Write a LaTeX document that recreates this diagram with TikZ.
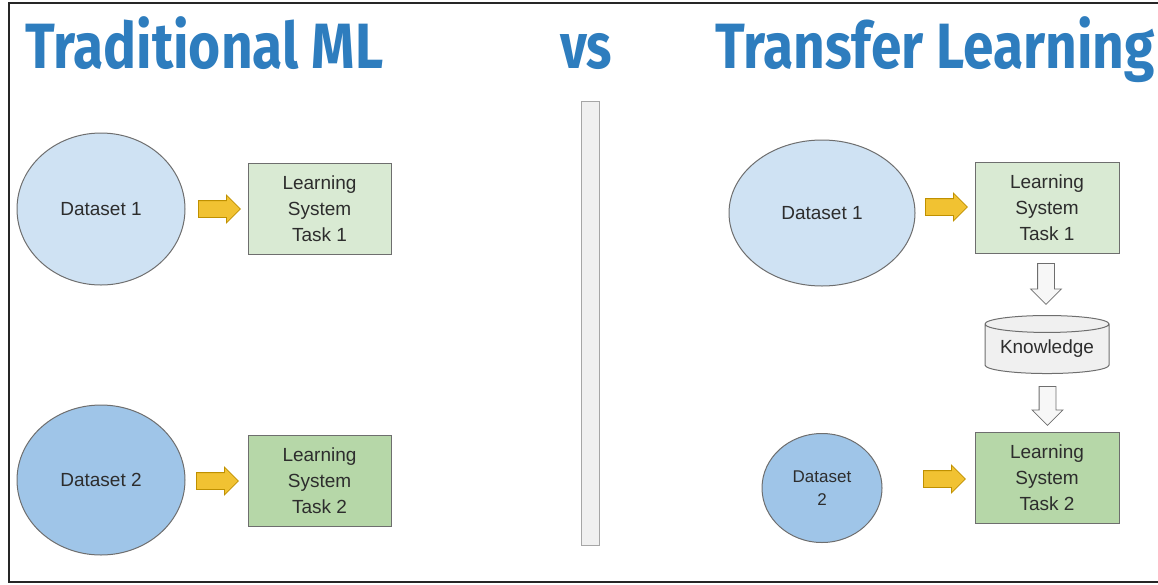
\documentclass[tikz,border=0pt]{standalone}
\usepackage{fontspec}
\setmainfont{Liberation Sans}
\newfontfamily\titlefont{Fira Sans}
\usetikzlibrary{shapes.geometric,shapes.arrows}
\definecolor{titleblue}{RGB}{46,125,190}
\definecolor{lightblue}{RGB}{207,226,243}
\definecolor{midblue}{RGB}{159,197,232}
\definecolor{lightgreen}{RGB}{217,234,211}
\definecolor{midgreen}{RGB}{182,215,168}
\definecolor{orangefill}{RGB}{241,194,50}
\definecolor{orangeline}{RGB}{191,144,0}
\definecolor{edgegray}{RGB}{110,110,110}
\definecolor{txt}{RGB}{45,45,45}
\newcommand{\ttl}[1]{\scalebox{0.86}[1]{#1}}
\tikzset{
  titletext/.style={anchor=base west, inner sep=0pt, text=titleblue, font=\titlefont\bfseries\fontsize{64}{70}\selectfont},
  dataset/.style={ellipse, draw=edgegray, line width=1pt, inner sep=0pt, text=txt, align=center, font=\fontsize{19}{25}\selectfont},
  taskbox/.style={rectangle, draw=edgegray, line width=1pt, inner sep=0pt, minimum width=143pt, minimum height=91pt, text=txt, align=center, font=\fontsize{19}{26}\selectfont},
  flowarrow/.style={single arrow, draw=orangeline, fill=orangefill, line width=0.8pt, minimum height=42pt, minimum width=27pt, single arrow head extend=5.5pt, inner xsep=0pt, inner ysep=8pt, anchor=tail},
  downarrow/.style={single arrow, draw=edgegray, fill=gray!6, line width=0.8pt, minimum height=41pt, minimum width=30pt, single arrow head extend=7pt, inner xsep=8pt, inner ysep=0pt, shape border rotate=270, anchor=tail},
  store/.style={cylinder, shape border rotate=90, aspect=0.18, draw=edgegray, fill=gray!12, line width=1pt, minimum width=124pt, minimum height=58pt, inner sep=0pt, text=txt, font=\fontsize{19}{25}\selectfont},
  frameline/.style={draw=black!85, line width=1.8pt},
}
\begin{document}
\begin{tikzpicture}[x=1pt,y=-1pt]
\useasboundingbox (0,0) rectangle (1158,584);
% frame
\coordinate (ftr) at (1158,3);
\coordinate (ftl) at (9,3);
\coordinate (fbl) at (9,582);
\coordinate (fbr) at (1158,582);
\draw[frameline] (ftr) -- (ftl) -- (fbl) -- (fbr);
% titles
\node[titletext] (t1) at (25,68) {\ttl{Traditional ML}};
\node[titletext] (t2) at (560,68) {\scalebox{0.82}[1]{vs}};
\node[titletext] (t3) at (715,68) {\ttl{Transfer Learning}};
% divider
\node[rectangle, draw=gray!70, fill=gray!12, line width=1pt, minimum width=18pt, minimum height=444pt, inner sep=0pt] (div) at (590,323) {};
% left side
\node[dataset, fill=lightblue, minimum width=168pt, minimum height=152pt] (d1) at (101,209) {Dataset 1};
\node[flowarrow] (a1) at (198,209) {};
\node[taskbox, fill=lightgreen] (l1) at (319.5,208.5) {Learning\\System\\Task 1};
\node[dataset, fill=midblue, minimum width=168pt, minimum height=150pt] (d2) at (101,480) {Dataset 2};
\node[flowarrow] (a2) at (196,481) {};
\node[taskbox, fill=midgreen] (l2) at (319.5,480.5) {Learning\\System\\Task 2};
% right side
\node[dataset, fill=lightblue, minimum width=186pt, minimum height=146pt] (rd1) at (822,213) {Dataset 1};
\node[flowarrow] (ra1) at (925,207) {};
\node[taskbox, fill=lightgreen, minimum width=144pt] (rl1) at (1047,207.5) {Learning\\System\\Task 1};
\node[downarrow] (da1) at (1046,263) {};
\node[store] (kn) at (1047,349) {Knowledge};
\node[downarrow, minimum height=39pt] (da2) at (1047.5,386) {};
\node[dataset, fill=midblue, minimum width=120pt, minimum height=109pt, font=\fontsize{17}{23}\selectfont] (rd2) at (822,488) {Dataset\\2};
\node[flowarrow] (ra2) at (923,479) {};
\node[taskbox, fill=midgreen, minimum width=144pt] (rl2) at (1047,477.5) {Learning\\System\\Task 2};
\end{tikzpicture}
\end{document}
